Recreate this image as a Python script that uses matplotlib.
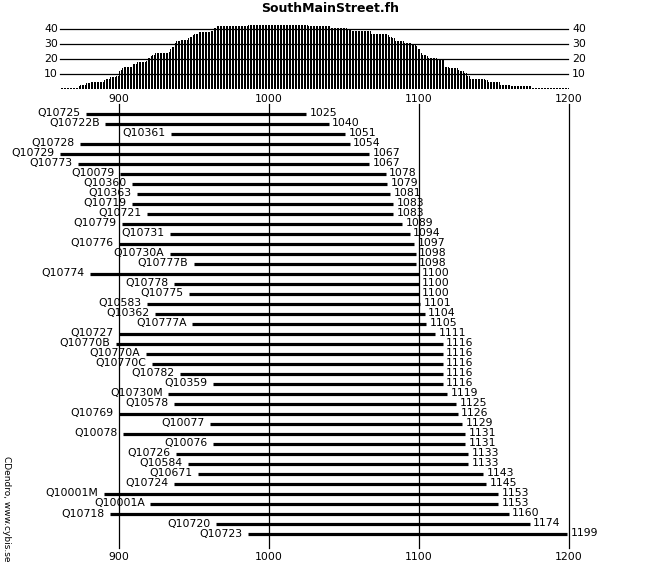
import matplotlib
matplotlib.use('Agg')
import matplotlib.pyplot as plt
import numpy as np

# 样本名称、起止年份（自上而下）
names = ['Q10725', 'Q10722B', 'Q10361', 'Q10728', 'Q10729', 'Q10773', 'Q10079', 'Q10360',
         'Q10363', 'Q10719', 'Q10721', 'Q10779', 'Q10731', 'Q10776', 'Q10730A', 'Q10777B',
         'Q10774', 'Q10778', 'Q10775', 'Q10583', 'Q10362', 'Q10777A', 'Q10727', 'Q10770B',
         'Q10770A', 'Q10770C', 'Q10782', 'Q10359', 'Q10730M', 'Q10578', 'Q10769', 'Q10077',
         'Q10078', 'Q10076', 'Q10726', 'Q10584', 'Q10671', 'Q10724', 'Q10001M', 'Q10001A',
         'Q10718', 'Q10720', 'Q10723']
starts = [878, 891, 935, 874, 861, 873, 901, 909, 912, 909, 919, 902, 934, 900, 934, 950,
          881, 937, 947, 919, 924, 949, 900, 898, 918, 922, 941, 963, 933, 937, 900, 961,
          903, 963, 938, 946, 953, 937, 890, 921, 894, 965, 986]
ends = [1025, 1040, 1051, 1054, 1067, 1067, 1078, 1079, 1081, 1083, 1083, 1089, 1094, 1097,
        1098, 1098, 1100, 1100, 1100, 1101, 1104, 1105, 1111, 1116, 1116, 1116, 1116, 1116,
        1119, 1125, 1126, 1129, 1131, 1131, 1133, 1133, 1143, 1145, 1153, 1153, 1160, 1174, 1199]
year_ticks = [900, 1000, 1100, 1200]
count_ticks = [10, 20, 30, 40]
title = 'SouthMainStreet.fh'

W, H = 659, 569
x0, x1 = 820.67, 1260  # 年份 -> 像素: 119 + (yr-900)*1.5
fs = 7.8

fig = plt.figure(figsize=(W / 100, H / 100), dpi=100)
ax = fig.add_axes([0, 0, 1, 1])
ax.set_xlim(x0, x1)
# 行号 r 对应像素 114 + 10 r
ax.set_ylim((H - 114) / 10, -114 / 10)
ax.axis('off')

# 竖直网格线
for yr in year_ticks:
    ax.plot([yr, yr], [-0.95, 43.4], color='black', lw=0.9)
    ax.text(yr, -1.5, str(yr), ha='center', va='center', fontsize=fs)
    ax.text(yr, 44.3, str(yr), ha='center', va='center', fontsize=fs)

# 每个样本的横条和标签
for i, (n, s, e) in enumerate(zip(names, starts, ends)):
    ax.plot([s, e], [i, i], color='black', lw=2.3, solid_capstyle='butt')
    ax.text(s - 3.7, i - 0.05, n, ha='right', va='center', fontsize=fs)
    ax.text(e + 2, i - 0.05, str(e), ha='left', va='center', fontsize=fs)

ax.text(330 / W * (x1 - x0) + x0, -10.6, title, ha='center', va='center',
        fontsize=9, fontweight='bold')
ax.text(6 / W * (x1 - x0) + x0, (509 - 114) / 10, 'CDendro, www.cybis.se', rotation=270,
        ha='center', va='center', fontsize=6.5)

# 顶部样本覆盖数直方图（每年一根 1px 竖线）
years = np.arange(min(starts), max(ends) + 1)
counts = np.zeros(len(years))
for s, e in zip(starts, ends):
    counts += (years >= s) & (years <= e)

axh = fig.add_axes([0, 1 - 89 / H, 1, 75 / H])
axh.set_xlim(x0, x1)
axh.set_ylim(0, 50)
axh.axis('off')
axh.vlines(years + 0.3, 0, counts, color='black', lw=0.72, antialiased=False)
for c in count_ticks:
    axh.plot([min(starts), 1199.5], [c, c], color='black', lw=0.9)
    axh.text(859.3, c, str(c), ha='right', va='center', fontsize=fs)
    axh.text(1202, c, str(c), ha='left', va='center', fontsize=fs)

plt.savefig('out.png', dpi=100)
plt.close()
